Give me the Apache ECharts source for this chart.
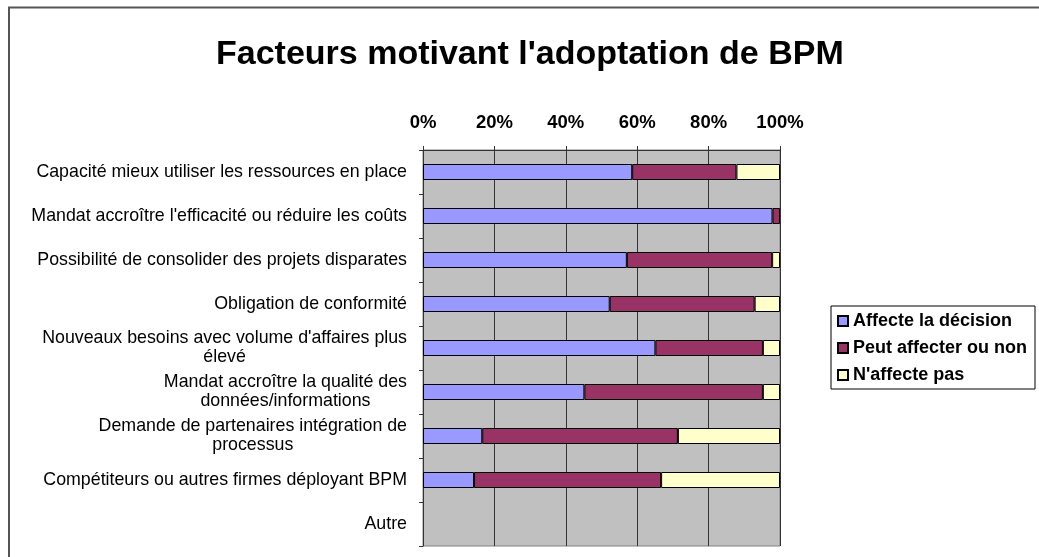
<!DOCTYPE html>
<html>
<head>
<meta charset="utf-8">
<script src="https://cdn.jsdelivr.net/npm/echarts@6/dist/echarts.min.js"></script>
<style>
html,body{margin:0;padding:0;background:#fff;}
#c{width:1039px;height:557px;}
</style>
</head>
<body>
<div id="c"></div>
<script>
const categories = [
  "Capacité mieux utiliser les ressources en place",
  "Mandat accroître l'efficacité ou réduire les coûts",
  "Possibilité de consolider des projets disparates",
  "Obligation de conformité",
  "Nouveaux besoins avec volume d'affaires plus\nélevé",
  "Mandat accroître la qualité des\ndonnées/informations",
  "Demande de partenaires intégration de\nprocessus",
  "Compétiteurs ou autres firmes déployant BPM",
  "Autre"
];
const seriesNames = ["Affecte la décision", "Peut affecter ou non", "N'affecte pas"];
const affecte = [58.6, 97.9, 57.1, 52.3, 65.1, 45.2, 16.6, 14.3, null];
const peutAffecter = [29.2, 2.1, 40.7, 40.6, 30.1, 50.0, 54.8, 52.4, null];
const nAffectePas = [12.2, null, 2.2, 7.1, 4.8, 4.8, 28.6, 33.3, null];
const xTicks = [0, 20, 40, 60, 80, 100];

const colors = ['#9999FF', '#993366', '#FFFFCC'];
const font = 'Arial, "Liberation Sans", sans-serif';

const chart = echarts.init(document.getElementById('c'), null, {renderer: 'canvas'});
function mk(name, data, i) {
  return {
    name: name, type: 'bar', stack: 'total', data: data, barWidth: 16,
    itemStyle: {color: colors[i], borderColor: '#000', borderWidth: 1},
    emphasis: {disabled: true},
    animation: false
  };
}
chart.setOption({
  animation: false,
  textStyle: {fontFamily: font},
  graphic: [{
    type: 'rect', z: -1, silent: true,
    shape: {x: 9, y: 7.5, width: 1100, height: 700},
    style: {fill: 'none', stroke: '#555', lineWidth: 2}
  }],
  title: {
    text: "Facteurs motivant l'adoptation de BPM",
    left: 211, top: 33,
    textStyle: {fontFamily: font, fontSize: 34, fontWeight: 'bold', color: '#000'}
  },
  legend: {
    orient: 'vertical', left: 831, top: 306,
    data: seriesNames,
    itemWidth: 10, itemHeight: 10, itemGap: 7,
    padding: [5, 8, 4, 6],
    borderColor: '#000', borderWidth: 1,
    textStyle: {fontFamily: font, fontSize: 18, fontWeight: 'bold', color: '#000', lineHeight: 20},
    icon: 'rect'
  },
  grid: {left: 423, top: 150, right: 259, bottom: 11, show: true, backgroundColor: '#C0C0C0', borderColor: '#808080', borderWidth: 1},
  xAxis: {
    type: 'value', position: 'top', min: 0, max: 100, interval: 20,
    axisLine: {show: true, lineStyle: {color: '#333'}},
    axisTick: {show: true, length: 4, lineStyle: {color: '#333'}},
    axisLabel: {formatter: '{value}%', margin: 18, fontFamily: font, fontSize: 18.5, fontWeight: 'bold', color: '#000'},
    splitLine: {show: true, lineStyle: {color: '#333', width: 1}}
  },
  yAxis: {
    type: 'category', inverse: true, data: categories,
    axisLine: {show: true, lineStyle: {color: '#333'}},
    axisTick: {show: true, length: 4, lineStyle: {color: '#333'}},
    axisLabel: {
      margin: 16, fontFamily: font, fontSize: 17.8, color: '#000', lineHeight: 19,
      formatter: function (v) {
        const lines = v.split('\n');
        if (lines.length === 1) return v;
        return lines.map(l => '{c|' + l + '}').join('\n');
      },
      rich: {c: {align: 'center', fontFamily: font, fontSize: 17.8, color: '#000', lineHeight: 19}}
    }
  },
  series: [mk(seriesNames[0], affecte, 0), mk(seriesNames[1], peutAffecter, 1), mk(seriesNames[2], nAffectePas, 2)]
});
</script>
</body>
</html>
